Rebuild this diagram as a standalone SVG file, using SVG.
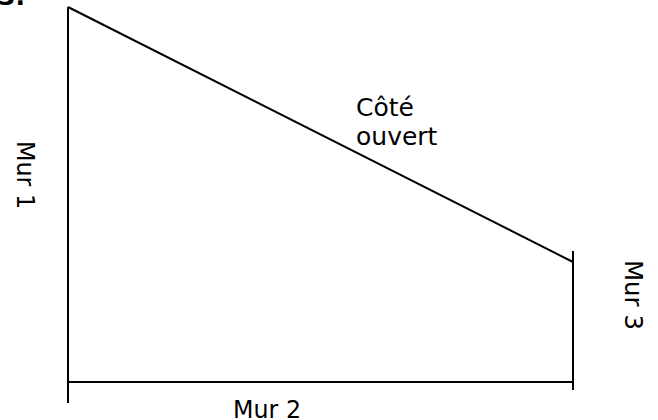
<svg xmlns="http://www.w3.org/2000/svg" width="658" height="420" viewBox="0 0 658 420">
  <style>
    .ln { stroke: #000; stroke-width: 2; fill: none; stroke-linecap: butt; }
    .t { font-family: "DejaVu Sans", "Liberation Sans", sans-serif; font-size: 25px; fill: #000; }
  </style>
  <rect width="658" height="420" fill="#fff"/>
  <text class="t" x="-2" y="5" font-weight="bold">3.</text>
  <g id="walls">
    <line class="ln" x1="68" y1="7" x2="68" y2="403"/>
    <line class="ln" x1="68" y1="382" x2="573" y2="382"/>
    <line class="ln" x1="573" y1="251" x2="573" y2="390"/>
    <line class="ln" x1="68" y1="7" x2="573" y2="262"/>
  </g>
  <g id="labels">
    <text class="t" transform="translate(17,141) rotate(90)" textLength="68" lengthAdjust="spacingAndGlyphs">Mur 1</text>
    <text class="t" x="233" y="418" textLength="68" lengthAdjust="spacingAndGlyphs">Mur 2</text>
    <text class="t" transform="translate(625,260) rotate(90)" textLength="70" lengthAdjust="spacingAndGlyphs">Mur 3</text>
    <text class="t" x="356" y="116">Côté</text>
    <text class="t" x="356" y="145">ouvert</text>
  </g>
</svg>
